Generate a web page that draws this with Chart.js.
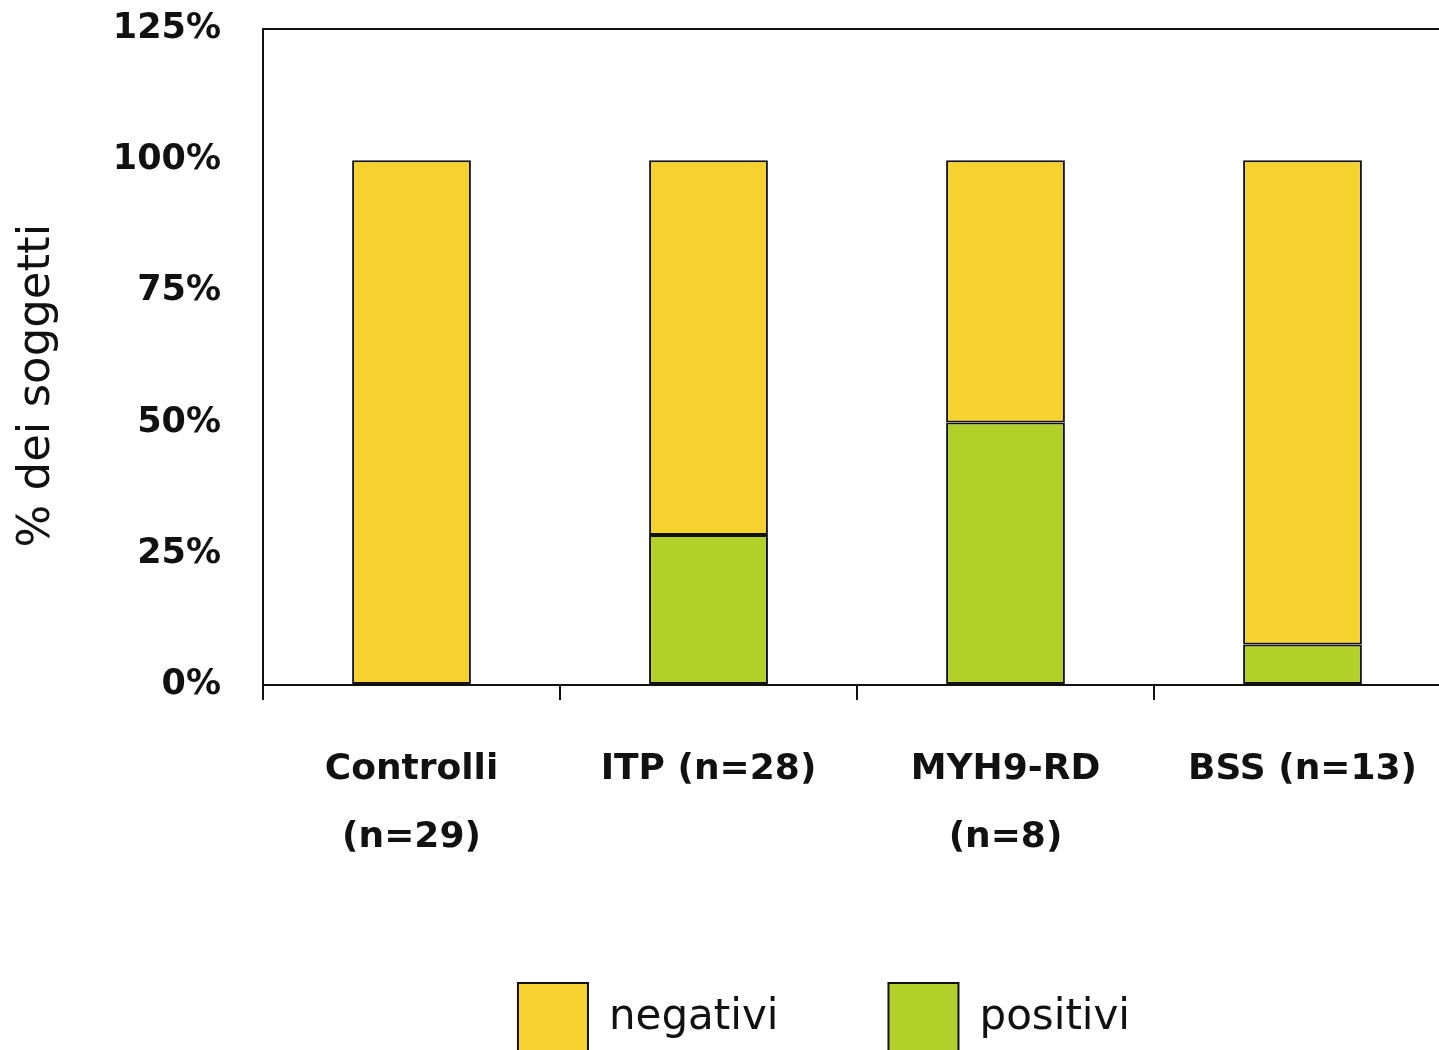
<!DOCTYPE html>
<html lang="it">
<head>
<meta charset="utf-8">
<title>% dei soggetti</title>
<script src="https://cdn.jsdelivr.net/npm/chart.js@4/dist/chart.umd.min.js"></script>
<style>
  html, body { margin: 0; padding: 0; background: #ffffff; overflow: hidden; }
  #wrap { width: 1439px; height: 1050px; overflow: hidden; }
  canvas { display: block; }
</style>
</head>
<body>
<div id="wrap"><canvas id="chart" width="1460" height="1063"></canvas></div>
<script>
// Categories (two-line labels) and the share of subjects per group
const categories = [
  ['Controlli', '(n=29)'],
  'ITP (n=28)',
  ['MYH9-RD', '(n=8)'],
  'BSS (n=13)'
];
const positivi = [0, 28.6, 50, 7.7];
const negativi = [100, 71.4, 50, 92.3];
const yTicks = [0, 25, 50, 75, 100, 125];

const YELLOW = '#F6D22E';
const GREEN = '#B3CF2A';
const INK = '#111111';

// Keep the legend block centred slightly left of the plot centre
const legendShift = {
  id: 'legendShift',
  beforeDraw(chart) {
    const lg = chart.legend;
    const a = chart.chartArea;
    if (!lg || !a) return;
    lg.left = a.left - 66;
    lg.right = a.right;
  }
};

new Chart(document.getElementById('chart'), {
  type: 'bar',
  data: {
    labels: categories,
    datasets: [
      {
        label: 'positivi',
        data: positivi,
        backgroundColor: GREEN,
        borderColor: INK,
        borderWidth: 2,
        borderSkipped: false
      },
      {
        label: 'negativi',
        data: negativi,
        backgroundColor: YELLOW,
        borderColor: INK,
        borderWidth: 2,
        borderSkipped: false
      }
    ]
  },
  options: {
    responsive: false,
    animation: false,
    layout: { padding: { top: 29, right: 9, bottom: 0, left: 0 } },
    datasets: { bar: { barPercentage: 0.4, categoryPercentage: 1 } },
    plugins: {
      tooltip: { enabled: false },
      legend: {
        position: 'bottom',
        fullSize: false,
        reverse: true,
        labels: {
          boxWidth: 70,
          boxHeight: 70,
          padding: 110,
          color: INK,
          font: { family: '"DejaVu Sans", sans-serif', size: 42 }
        }
      }
    },
    scales: {
      x: {
        stacked: true,
        border: { display: true, color: INK, width: 2 },
        grid: {
          offset: true,
          drawOnChartArea: false,
          drawTicks: true,
          tickLength: 15,
          color: INK,
          lineWidth: 2
        },
        ticks: {
          color: INK,
          padding: 36,
          maxRotation: 0,
          autoSkip: false,
          font: { family: '"DejaVu Sans", sans-serif', size: 36, weight: 'bold', lineHeight: 68 / 36 }
        },
        afterFit(scale) { scale.height = 188; }
      },
      y: {
        stacked: true,
        min: 0,
        max: 125,
        afterBuildTicks(scale) { scale.ticks = yTicks.map(v => ({ value: v })); },
        border: { display: true, color: INK, width: 2 },
        grid: {
          drawTicks: false,
          lineWidth: 2,
          color: ctx => (ctx.tick && ctx.tick.value === 125 ? INK : 'rgba(0,0,0,0)')
        },
        ticks: {
          color: INK,
          padding: 42,
          callback: v => v + '%',
          font: { family: '"DejaVu Sans", sans-serif', size: 35, weight: 'bold' }
        },
        title: {
          display: true,
          // trailing spaces nudge the rotated title a little lower
          text: '% dei soggetti    ',
          color: INK,
          padding: { top: 10, bottom: 0 },
          font: { family: '"DejaVu Sans", sans-serif', size: 45 }
        },
        afterFit(scale) {
          scale.width = 263;
          scale.paddingTop = 0;
          scale.paddingBottom = 0;
        }
      }
    }
  },
  plugins: [legendShift]
});
</script>
</body>
</html>
